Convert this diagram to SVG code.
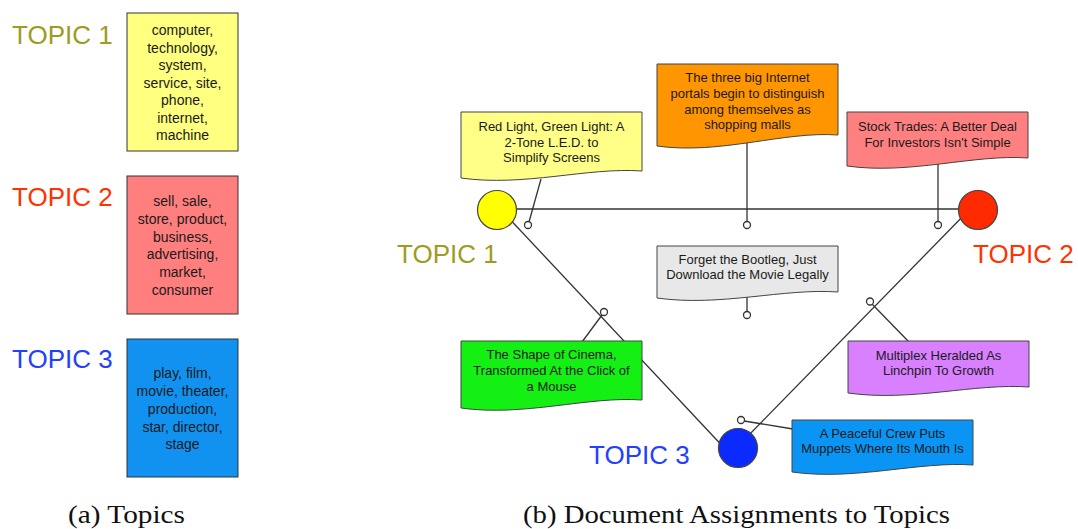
<svg xmlns="http://www.w3.org/2000/svg" width="1078" height="529" viewBox="0 0 1078 529">
<style>
.topic{font-family:"Liberation Sans",Arial,sans-serif;font-size:26px}
.t1{fill:#9f9b1f}.t2{fill:#ff3300}.t3{fill:#2340ff}
.box{stroke:#333;stroke-width:1}
.bt{font-family:"Liberation Sans",Arial,sans-serif;font-size:14px;fill:#1a1a1a;text-anchor:middle}
.note{stroke:#444;stroke-width:1}
.nt{font-family:"Liberation Sans",Arial,sans-serif;font-size:13px;fill:#1a1a1a;text-anchor:middle}
.ln{stroke:#333;stroke-width:1.3;fill:none}
.dot{fill:#fff;stroke:#333;stroke-width:1.3}
.big{stroke:#444;stroke-width:1.2}
.cap{font-family:"Liberation Serif","Times New Roman",serif;font-size:25px;fill:#111}
</style>
<rect width="1078" height="529" fill="#fff"/>

<!-- Panel (a) -->
<g id="topic1-list">
  <text class="topic t1" x="12" y="44">TOPIC 1</text>
  <rect class="box" x="127" y="13" width="111" height="138" fill="#ffff80"/>
  <text class="bt" x="182.5" y="35">computer,</text>
  <text class="bt" x="182.5" y="52.5">technology,</text>
  <text class="bt" x="182.5" y="70">system,</text>
  <text class="bt" x="182.5" y="87.5">service, site,</text>
  <text class="bt" x="182.5" y="105">phone,</text>
  <text class="bt" x="182.5" y="122.5">internet,</text>
  <text class="bt" x="182.5" y="140">machine</text>
</g>
<g id="topic2-list">
  <text class="topic t2" x="12" y="206">TOPIC 2</text>
  <rect class="box" x="127" y="176" width="111" height="138" fill="#ff7f7f"/>
  <text class="bt" x="182.5" y="206">sell, sale,</text>
  <text class="bt" x="182.5" y="224">store, product,</text>
  <text class="bt" x="182.5" y="241.5">business,</text>
  <text class="bt" x="182.5" y="259">advertising,</text>
  <text class="bt" x="182.5" y="277">market,</text>
  <text class="bt" x="182.5" y="294.5">consumer</text>
</g>
<g id="topic3-list">
  <text class="topic t3" x="12" y="368">TOPIC 3</text>
  <rect class="box" x="127" y="339" width="111" height="138" fill="#1192f0"/>
  <text class="bt" x="182.5" y="378">play, film,</text>
  <text class="bt" x="182.5" y="396">movie, theater,</text>
  <text class="bt" x="182.5" y="413.5">production,</text>
  <text class="bt" x="182.5" y="431.5">star, director,</text>
  <text class="bt" x="182.5" y="449">stage</text>
</g>
<text class="cap" x="68" y="523" textLength="117" lengthAdjust="spacingAndGlyphs">(a) Topics</text>

<!-- Panel (b) connectors -->
<g id="connectors">
  <line class="ln" x1="517" y1="209" x2="958" y2="209"/>
  <line class="ln" x1="505" y1="214" x2="728" y2="452"/>
  <line class="ln" x1="970" y1="209" x2="744" y2="440"/>
  <line class="ln" x1="541" y1="179" x2="529" y2="222"/>
  <line class="ln" x1="747" y1="143" x2="747" y2="221"/>
  <line class="ln" x1="938" y1="163" x2="938" y2="221"/>
  <line class="ln" x1="747" y1="296" x2="747" y2="311"/>
  <line class="ln" x1="582" y1="342" x2="602" y2="315"/>
  <line class="ln" x1="872" y1="304" x2="909" y2="342"/>
  <line class="ln" x1="744" y1="421" x2="793" y2="429"/>
  <circle class="dot" cx="528" cy="225" r="3.5"/>
  <circle class="dot" cx="747" cy="225" r="3.5"/>
  <circle class="dot" cx="938" cy="225" r="3.5"/>
  <circle class="dot" cx="747" cy="315" r="3.5"/>
  <circle class="dot" cx="604" cy="312" r="3.5"/>
  <circle class="dot" cx="870" cy="301.5" r="3.5"/>
  <circle class="dot" cx="741" cy="420" r="3.5"/>
</g>

<g id="topic1-node">
  <circle class="big" cx="497" cy="210" r="19.5" fill="#ffff00"/>
  <text class="topic t1" x="397" y="263">TOPIC 1</text>
</g>
<g id="topic2-node">
  <circle class="big" cx="978" cy="210" r="19.5" fill="#ff2a00"/>
  <text class="topic t2" x="973" y="263">TOPIC 2</text>
</g>
<g id="topic3-node">
  <circle class="big" cx="738" cy="448" r="19.5" fill="#0a2aff"/>
  <text class="topic t3" x="589" y="464">TOPIC 3</text>
</g>

<g id="doc-red-light">
  <path class="note" fill="#ffff88" d="M461 112 H642 V171 C588 167 524 187 461 178 Z"/>
  <text class="nt" x="551.5" y="131">Red Light, Green Light: A</text>
  <text class="nt" x="551.5" y="146.5">2-Tone L.E.D. to</text>
  <text class="nt" x="551.5" y="162">Simplify Screens</text>
</g>
<g id="doc-portals">
  <path class="note" fill="#ff9500" d="M657 64 H838 V135 C784 131 720 155 657 146 Z"/>
  <text class="nt" x="747.5" y="82">The three big Internet</text>
  <text class="nt" x="747.5" y="98">portals begin to distinguish</text>
  <text class="nt" x="747.5" y="113.5">among themselves as</text>
  <text class="nt" x="747.5" y="129">shopping malls</text>
</g>
<g id="doc-stock">
  <path class="note" fill="#ff8080" d="M847 112 H1028 V158 C974 154 910 175 847 166 Z"/>
  <text class="nt" x="937.5" y="131">Stock Trades: A Better Deal</text>
  <text class="nt" x="937.5" y="146.5">For Investors Isn't Simple</text>
</g>
<g id="doc-bootleg">
  <path class="note" fill="#e8e8e8" d="M657 246 H838 V292 C784 288 720 307 657 298 Z"/>
  <text class="nt" x="747.5" y="264">Forget the Bootleg, Just</text>
  <text class="nt" x="747.5" y="279">Download the Movie Legally</text>
</g>
<g id="doc-cinema">
  <path class="note" fill="#14f014" d="M461 341 H642 V400 C588 396 524 417 461 408 Z"/>
  <text class="nt" x="551.5" y="359">The Shape of Cinema,</text>
  <text class="nt" x="551.5" y="375">Transformed At the Click of</text>
  <text class="nt" x="551.5" y="391">a Mouse</text>
</g>
<g id="doc-multiplex">
  <path class="note" fill="#d880ff" d="M848 341 H1029 V387 C975 383 911 402 848 393 Z"/>
  <text class="nt" x="938.5" y="360">Multiplex Heralded As</text>
  <text class="nt" x="938.5" y="375">Linchpin To Growth</text>
</g>
<g id="doc-muppets">
  <path class="note" fill="#0a95f5" d="M792 420 H973 V465 C919 461 855 481 792 472 Z"/>
  <text class="nt" x="882.5" y="438">A Peaceful Crew Puts</text>
  <text class="nt" x="882.5" y="453">Muppets Where Its Mouth Is</text>
</g>

<text class="cap" x="523" y="523" textLength="427" lengthAdjust="spacingAndGlyphs">(b) Document Assignments to Topics</text>
</svg>
